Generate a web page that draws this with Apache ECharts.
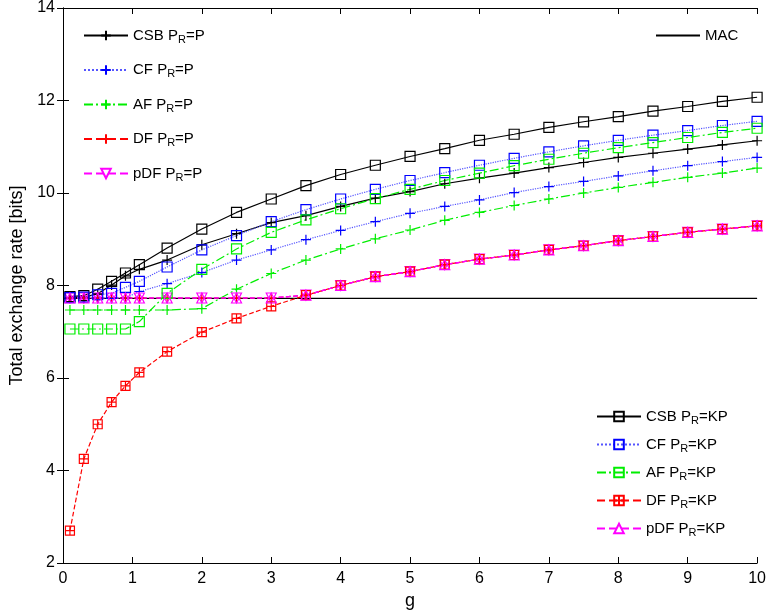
<!DOCTYPE html>
<html>
<head>
<meta charset="utf-8">
<script src="https://cdn.jsdelivr.net/npm/echarts@6/dist/echarts.min.js"></script>
<style>html,body{margin:0;padding:0;background:#fff}#main{width:769px;height:615px}</style>
</head>
<body>
<div id="main"></div>
<script>
var gx = [0.1,0.3,0.5,0.7,0.9,1.1,1.5,2,2.5,3,3.5,4,4.5,5,5.5,6,6.5,7,7.5,8,8.5,9,9.5,10];
var csbP = [7.73,7.75,7.82,8.01,8.21,8.35,8.55,8.88,9.12,9.36,9.51,9.71,9.89,10.03,10.2,10.32,10.43,10.55,10.66,10.77,10.86,10.95,11.04,11.13];
var csbKP = [7.76,7.78,7.92,8.09,8.27,8.45,8.81,9.22,9.58,9.87,10.16,10.4,10.6,10.79,10.96,11.14,11.27,11.42,11.54,11.65,11.77,11.87,11.98,12.07];
var cfP = [7.73,7.73,7.73,7.73,7.73,7.87,8.04,8.28,8.55,8.77,8.99,9.19,9.38,9.56,9.71,9.85,10.01,10.14,10.25,10.37,10.48,10.59,10.68,10.77];
var cfKP = [7.74,7.75,7.8,7.83,7.96,8.09,8.4,8.77,9.08,9.38,9.64,9.87,10.08,10.27,10.44,10.6,10.75,10.89,11.02,11.14,11.25,11.35,11.46,11.55];
var afP = [7.47,7.47,7.47,7.47,7.47,7.47,7.47,7.5,7.92,8.26,8.55,8.79,9.01,9.2,9.41,9.58,9.73,9.87,10.0,10.12,10.23,10.34,10.43,10.54];
var afKP = [7.06,7.06,7.06,7.06,7.06,7.22,7.83,8.35,8.79,9.15,9.42,9.66,9.88,10.08,10.27,10.43,10.59,10.73,10.86,10.98,11.09,11.2,11.31,11.4];
var dfP = [7.73,7.73,7.73,7.73,7.73,7.73,7.73,7.73,7.73,7.73,7.79,8.0,8.19,8.3,8.45,8.57,8.66,8.77,8.86,8.97,9.06,9.15,9.22,9.29];
var dfKP = [2.7,4.25,5.0,5.48,5.83,6.12,6.57,6.99,7.29,7.55,7.79,8.0,8.19,8.3,8.45,8.57,8.66,8.77,8.86,8.97,9.06,9.15,9.22,9.29];
var pdfP = dfP.slice();
var pdfKP = dfP.slice();
var macX = [0, 10];
var macY = [7.72, 7.72];

function pts(ys, xs) { xs = xs || gx; return xs.map(function (x, i) { return [x, ys[i]]; }); }

var plus = 'path://M0,5L10,5M5,0L5,10';
var boxPlus = 'path://M0,0L10,0L10,10L0,10ZM0,5L10,5M5,0L5,10';
var dashDot = [9, 3, 2, 3];

function mk(name, ys, color, lineType, sym, symSize, lineColor, rot) {
  return {
    name: name, type: 'line', data: pts(ys), symbol: sym, symbolSize: symSize || 9,
    symbolRotate: rot || 0, showAllSymbol: true, clip: false,
    lineStyle: { color: lineColor || color, width: 1.2, type: lineType },
    itemStyle: { color: 'none', borderColor: color, borderWidth: 1.2 },
    emphasis: { disabled: true }
  };
}

var series = [
  mk('CSB P{s|R}=P', csbP, '#000', 'solid', plus, 10),
  mk('CF P{s|R}=P', cfP, '#0000ff', 'dotted', plus, 10, '#5555ff'),
  mk('AF P{s|R}=P', afP, '#00ee00', dashDot, plus, 10),
  mk('DF P{s|R}=P', dfP, '#ff0000', 'dashed', plus, 10),
  mk('pDF P{s|R}=P', pdfP, '#ff00ff', 'dashed', 'triangle', 10, null, 180),
  mk('CSB P{s|R}=KP', csbKP, '#000', 'solid', 'rect', 10),
  mk('CF P{s|R}=KP', cfKP, '#0000ff', 'dotted', 'rect', 10, '#5555ff'),
  mk('AF P{s|R}=KP', afKP, '#00ee00', dashDot, 'rect', 10),
  mk('DF P{s|R}=KP', dfKP, '#ff0000', 'dashed', boxPlus, 9),
  mk('pDF P{s|R}=KP', pdfKP, '#ff00ff', 'dashed', 'triangle', 10),
  {
    name: 'MAC', type: 'line', data: pts(macY, macX), symbol: 'none',
    lineStyle: { color: '#000', width: 1.2 }, itemStyle: { color: '#000' }, z: 1
  }
];

var legendText = {
  fontFamily: 'Liberation Sans', fontSize: 15, color: '#000',
  rich: { s: { fontSize: 11, verticalAlign: 'bottom', padding: [8, 0, 0, 0], fontFamily: 'Liberation Sans' } }
};

var option = {
  animation: false,
  textStyle: { fontFamily: 'Liberation Sans' },
  grid: { left: 63, right: 9, top: 8, bottom: 52 },
  legend: [
    {
      data: series.slice(0, 5).map(function (s) { return s.name; }),
      orient: 'vertical', left: 78, top: 23, itemWidth: 44, itemHeight: 12, itemGap: 17.5,
      textStyle: legendText
    },
    {
      data: series.slice(5, 10).map(function (s) { return s.name; }),
      orient: 'vertical', left: 591, top: 404, itemWidth: 44, itemHeight: 12, itemGap: 11,
      textStyle: legendText
    },
    {
      data: [{ name: 'MAC', itemStyle: { opacity: 0 } }], orient: 'vertical', left: 650, top: 23,
      itemWidth: 44, itemHeight: 12, textStyle: legendText
    }
  ],
  xAxis: [{
    type: 'value', min: 0, max: 10, interval: 1, name: 'g', nameLocation: 'middle', nameGap: 28,
    nameTextStyle: { fontSize: 18, color: '#000' },
    axisLine: { lineStyle: { color: '#000' } },
    axisTick: { inside: true, length: 6, lineStyle: { color: '#000' } },
    axisLabel: { fontSize: 16, color: '#000', margin: 8 },
    splitLine: { show: false }
  }, {
    type: 'value', min: 0, max: 10, interval: 1, position: 'top',
    axisLine: { lineStyle: { color: '#000' } },
    axisTick: { inside: true, length: 6, lineStyle: { color: '#000' } },
    axisLabel: { show: false }, splitLine: { show: false }
  }],
  yAxis: [{
    type: 'value', min: 2, max: 14, interval: 2, name: 'Total exchange rate [bits]',
    nameLocation: 'middle', nameGap: 32, nameRotate: 90,
    nameTextStyle: { fontSize: 18, color: '#000' },
    axisLine: { show: true, lineStyle: { color: '#000' } },
    axisTick: { show: true, inside: true, length: 6, lineStyle: { color: '#000' } },
    axisLabel: { fontSize: 16, color: '#000', margin: 8 },
    splitLine: { show: false }
  }, {
    type: 'value', min: 2, max: 14, interval: 2, position: 'right',
    axisLine: { show: true, lineStyle: { color: '#000' } },
    axisTick: { show: true, inside: true, length: 6, lineStyle: { color: '#000' } },
    axisLabel: { show: false }, splitLine: { show: false }
  }],
  series: series
};

var chart = echarts.init(document.getElementById('main'));
chart.setOption(option);
</script>
</body>
</html>
